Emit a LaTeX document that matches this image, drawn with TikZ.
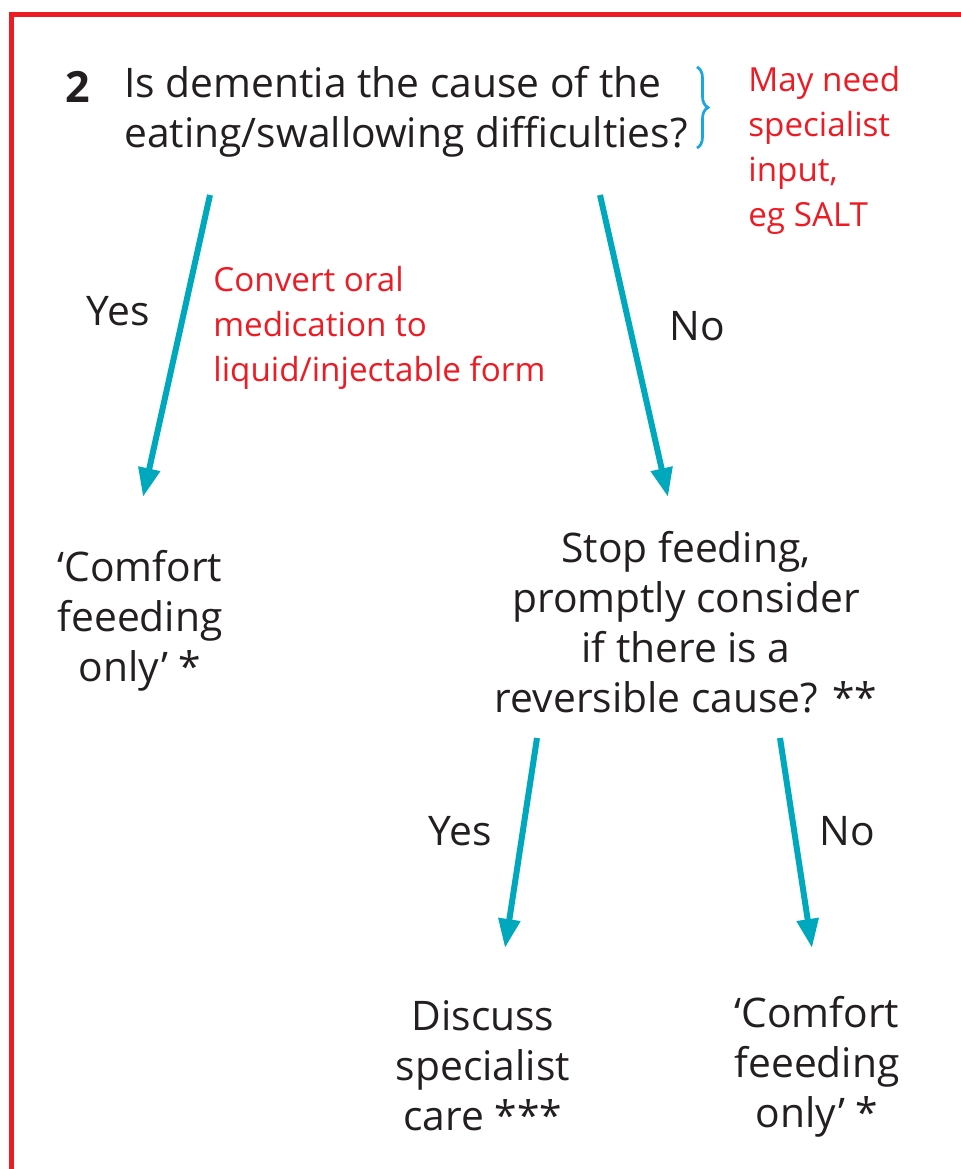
\documentclass[tikz,border=0pt]{standalone}
\usepackage{fontspec}
\setmainfont{Open Sans}
\usetikzlibrary{arrows.meta,positioning,decorations.pathreplacing}
\definecolor{alzred}{HTML}{ED1C24}
\definecolor{alzteal}{HTML}{00A8BD}
\definecolor{alzblue}{HTML}{1BA6E2}
\definecolor{alzgray}{HTML}{231F20}
\tikzstyle{arrow} = [line width=0.12cm, alzteal, -{Triangle[length=0.58cm,width=0.42cm]}]
\tikzstyle{txt}   = [inner sep=0pt, text=alzgray, font=\fontsize{23.2}{28.5}\selectfont, align=center]
\tikzstyle{note}  = [inner sep=0pt, text=alzred, font=\fontsize{18.9}{25.6}\selectfont, align=left, anchor=west]
\tikzset{
	x=0.02cm,
	y=-0.02cm,
}

\begin{document}
\begin{tikzpicture}
        \useasboundingbox (0,0) rectangle (960,1169);
        % frame
        \draw[alzred, line width=0.1cm] (11.5,1180) -- (11.5,14.5) -- (970,14.5);

        % question
        \node[txt, font=\fontsize{24.5}{29}\bfseries] (num) at (78,87) {2};
        \node[txt, align=left, anchor=west] (Q) at (124,112) {Is dementia the cause of the\\eating/swallowing difficulties?};
        \draw[alzblue, line width=0.055cm, decorate, decoration={brace, amplitude=0.22cm}] (697,67) -- (697,148);
        \node[note] (spec) at (748,150) {May need\\specialist\\input,\\eg SALT};

        % first split
        \coordinate (Q-yes) at (210,195);
        \coordinate (Q-no) at (600,195);
        \node[txt] (comfort1) at (140,621) {‘Comfort\\feeeding\\only’ *};
        \node[txt] (stop) at (686,622) {Stop feeding,\\promptly consider\\if there is a\\reversible cause? **};
        \coordinate (comfort1-in) at (143,497);
        \coordinate (stop-in) at (668,497);
        \draw[arrow] (Q-yes) -- (comfort1-in);
        \draw[arrow] (Q-no) -- (stop-in);
        \node[txt] (yes1) at (118,311) {Yes};
        \node[txt] (no1) at (697,326) {No};
        \node[note] (convert) at (213,328) {Convert oral\\medication to\\liquid/injectable form};

        % second split
        \coordinate (stop-yes) at (537,738);
        \coordinate (stop-no) at (780,738);
        \node[txt] (discuss) at (483,1066) {Discuss\\specialist\\care ***};
        \node[txt] (comfort2) at (817,1067) {‘Comfort\\feeeding\\only’ *};
        \coordinate (discuss-in) at (505,948);
        \coordinate (comfort2-in) at (812,948);
        \draw[arrow] (stop-yes) -- (discuss-in);
        \draw[arrow] (stop-no) -- (comfort2-in);
        \node[txt] (yes2) at (460,831) {Yes};
        \node[txt] (no2) at (847,831) {No};
    \end{tikzpicture}
\end{document}
